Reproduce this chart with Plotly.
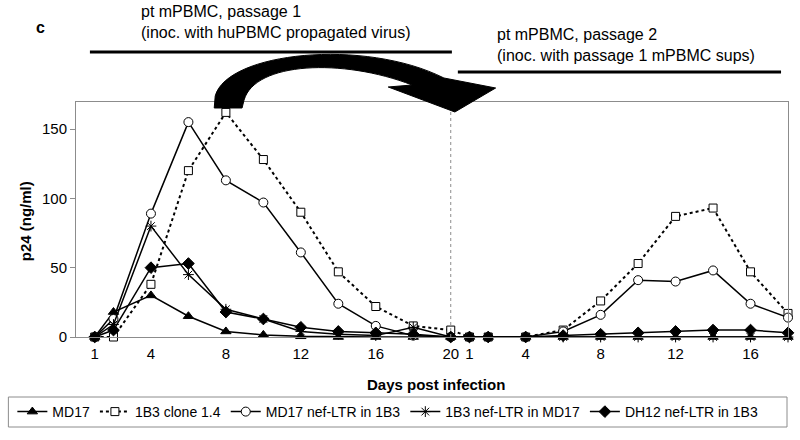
import plotly.graph_objects as go

# ---------------- data ----------------
days_p1 = [1, 2, 4, 6, 8, 10, 12, 14, 16, 18, 20]
days_p2 = [1, 2, 4, 6, 8, 10, 12, 14, 16, 18]

md17_p1 = [0, 18, 30, 15, 4, 1.5, 0.5, 0, 0, 0, 0]
md17_p2 = [0, 0, 0, 0, 0, 0, 0, 0, 0, 0]

clone_p1 = [0, 0, 38, 120, 162, 128, 90, 47, 22, 8, 5]
clone_p2 = [0, 0, 0, 5, 26, 53, 87, 93, 47, 17]

md17nef_p1 = [0, 13, 89, 155, 113, 97, 61, 24, 8, 1, 0]
md17nef_p2 = [0, 0, 0, 4, 16, 41, 40, 48, 24, 14]

b3nef_p1 = [0, 9, 80, 45, 20, 13, 4, 2, 1, 7, 0]
b3nef_p2 = [0, 0, 0, 0, 0, 0, 0, 0, 0, 0]

dh12_p1 = [0, 5, 50, 53, 18, 13, 7, 4, 3, 2, 0]
dh12_p2 = [0, 0, 0, 1, 2, 3, 4, 5, 5, 3]

tick_days_p1 = [1, 4, 8, 12, 16, 20]
tick_days_p2 = [1, 4, 8, 12, 16]

# passage 2 follows passage 1 on a shared axis
OFFSET = 20
x_all = days_p1 + [d + OFFSET for d in days_p2]
tickvals = tick_days_p1 + [d + OFFSET for d in tick_days_p2]
ticktext = [str(d) for d in tick_days_p1 + tick_days_p2]

# ---------------- figure ----------------
W, H = 800, 440
L, R, T, B = 72, 12, 102, 103
PW, PH = W - L - R, H - T - B


def px(x, y):
    return (x - L) / PW, (H - B - y) / PH


fig = go.Figure()

series = [
    ("MD17", md17_p1 + md17_p2, "triangle-up", "black", "solid", 9, 1.5),
    ("1B3 clone 1.4", clone_p1 + clone_p2, "square", "white", "dot", 8, 2),
    ("MD17 nef-LTR in 1B3", md17nef_p1 + md17nef_p2, "circle", "white", "solid", 9, 1.5),
    ("1B3 nef-LTR in MD17", b3nef_p1 + b3nef_p2, "asterisk-open", "black", "solid", 9, 1.5),
    ("DH12 nef-LTR in 1B3", dh12_p1 + dh12_p2, "diamond", "black", "solid", 9, 1.5),
]
for name, ys, sym, fill, dash, size, lw in series:
    fig.add_trace(go.Scatter(
        x=x_all, y=ys, name=name, mode="lines+markers",
        line=dict(color="black", width=lw, dash=dash),
        marker=dict(symbol=sym, size=size, color=fill,
                    line=dict(color="black", width=1)),
        cliponaxis=False,
    ))

fig.update_xaxes(
    range=[0, 38], tickmode="array", tickvals=tickvals, ticktext=ticktext,
    showgrid=False, zeroline=False, showline=True, linecolor="#8c8c8c",
    linewidth=1, mirror=True, ticks="outside", ticklen=3,
    tickcolor="rgba(0,0,0,0)",
    tickfont=dict(family="Liberation Sans, Arial", size=15, color="black"),
)
fig.update_yaxes(
    range=[0, 169.5], tickvals=[0, 50, 100, 150],
    showgrid=False, zeroline=False, showline=True, linecolor="#8c8c8c",
    linewidth=1, mirror=True, ticks="outside", ticklen=5, tickcolor="#8c8c8c",
    tickfont=dict(family="Liberation Sans, Arial", size=15, color="black"),
)

shapes = []
# separator between passages
shapes.append(dict(type="line", xref="x", yref="paper", x0=OFFSET, x1=OFFSET,
                   y0=0, y1=1, line=dict(color="#8c8c8c", width=1, dash="dot")))
# header bars
for (x0, y0, x1, y1) in [(86, 52, 450, 52), (456, 72, 781, 72)]:
    a, b = px(x0, y0)
    c, d = px(x1, y1)
    shapes.append(dict(type="line", xref="paper", yref="paper", x0=a, y0=b,
                       x1=c, y1=d, line=dict(color="black", width=3)))


def P(x, y):
    a, b = px(x, y)
    return f"{a:.5f},{b:.5f}"


arrow = (
    f"M {P(211,108)} L {P(212,96)} "
    f"C {P(224,52)} {P(362,38)} {P(442,78)} "
    f"L {P(494,88)} L {P(453,112)} L {P(386,87)} L {P(410,85)} "
    f"C {P(340,58)} {P(252,62)} {P(241,100)} "
    f"L {P(239,108)} Z"
)
shapes.append(dict(type="path", xref="paper", yref="paper", path=arrow,
                   fillcolor="black", line=dict(color="black", width=1)))
# legend frame
a, b = px(4, 397)
c, d = px(787, 427)
shapes.append(dict(type="rect", xref="paper", yref="paper", x0=a, y0=d, x1=c, y1=b,
                   line=dict(color="#8c8c8c", width=1), fillcolor="rgba(0,0,0,0)"))

annotations = []


def text(x, y, s, size=16, bold=False, anchor="left", angle=0):
    a, b = px(x, y)
    annotations.append(dict(
        x=a, y=b, xref="paper", yref="paper", text=f"<b>{s}</b>" if bold else s,
        showarrow=False, xanchor=anchor, yanchor="middle", textangle=angle,
        font=dict(family="Liberation Sans, Arial", size=size, color="black")))


text(36, 27, "c", size=16, bold=True, anchor="center")
text(135, 12, "pt mPBMC, passage 1")
text(135, 33, "(inoc. with huPBMC propagated virus)")
text(493, 35, "pt mPBMC, passage 2")
text(493, 55, "(inoc. with passage 1 mPBMC sups)")
text(434, 384, "Days post infection", size=15, bold=True, anchor="center")
text(21, 221, "p24 (ng/ml)", size=15, bold=True, anchor="center", angle=-90)

lx, ly = px(8, 412)
fig.update_layout(
    width=W, height=H, margin=dict(l=L, r=R, t=T, b=B),
    paper_bgcolor="white", plot_bgcolor="white",
    shapes=shapes, annotations=annotations,
    legend=dict(orientation="h", x=lx, y=ly, xanchor="left", yanchor="middle",
                bgcolor="rgba(0,0,0,0)",
                font=dict(family="Liberation Sans Narrow, Arial Narrow, Liberation Sans",
                          size=14, color="black")),
    showlegend=True,
)

fig.write_html("out.html", config={"displayModeBar": False},
               post_script="document.body.style.margin='0';")
